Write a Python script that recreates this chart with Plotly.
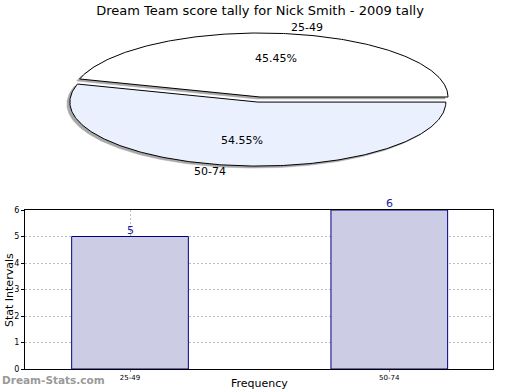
import numpy as np
import plotly.graph_objects as go

title = "Dream Team score tally for Nick Smith - 2009 tally"
categories = ["25-49", "50-74"]
counts = [5, 6]
slice_colors = ["#ffffff", "#eaf0fd"]
explode = [0.0, 0.08]
y_ticks = [0, 1, 2, 3, 4, 5, 6]

W, H = 520, 390
fig = go.Figure()

# ---------- elliptical pie (pixel-space axis x2/y2) ----------
total = sum(counts)
cx, cy, a, b = 260, 97, 188, 64
shadow_dx, shadow_dy = -3, 2
start = 0.0
geo = []
for cat, v, col, ex in zip(categories, counts, slice_colors, explode):
    th0 = start
    th1 = start + 2 * np.pi * v / total
    mid = (th0 + th1) / 2
    dx = ex * a * np.cos(mid)
    dy = -ex * b * np.sin(mid)
    t = np.linspace(th0, th1, 240)
    xs = np.concatenate([[cx], cx + a * np.cos(t), [cx]]) + dx
    ys = np.concatenate([[cy], cy - b * np.sin(t), [cy]]) + dy
    geo.append((cat, v, col, mid, dx, dy, xs, ys))
    start = th1

for cat, v, col, mid, dx, dy, xs, ys in geo:
    fig.add_trace(go.Scatter(x=xs + shadow_dx, y=ys + shadow_dy, mode="lines",
                             fill="toself", fillcolor="#a8a8a8",
                             line=dict(color="#a8a8a8", width=0.5),
                             xaxis="x2", yaxis="y2", hoverinfo="skip",
                             showlegend=False))
for cat, v, col, mid, dx, dy, xs, ys in geo:
    fig.add_trace(go.Scatter(x=xs, y=ys, mode="lines", fill="toself",
                             fillcolor=col, line=dict(color="#000000", width=1),
                             xaxis="x2", yaxis="y2", hoverinfo="skip",
                             showlegend=False))

annotations = []
for cat, v, col, mid, dx, dy, xs, ys in geo:
    px = cx + dx + 0.6 * a * np.cos(mid)
    py = cy + dy - 0.6 * b * np.sin(mid)
    annotations.append(dict(x=px, y=py, xref="x2", yref="y2",
                            text=f"{100 * v / total:.2f}%", showarrow=False,
                            xanchor="center", yanchor="middle",
                            font=dict(size=11, color="#000000")))
    ox = cx + dx + 1.1 * a * np.cos(mid)
    oy = cy + dy - 1.1 * b * np.sin(mid)
    annotations.append(dict(x=ox, y=oy, xref="x2", yref="y2", text=cat,
                            showarrow=False,
                            xanchor="left" if np.cos(mid) > 0 else "right",
                            yanchor="middle",
                            font=dict(size=11, color="#000000")))

# ---------- bar chart ----------
fig.add_trace(go.Bar(x=categories, y=counts, width=0.45,
                     marker=dict(color="#ccccE4",
                                 line=dict(color="#000080", width=1)),
                     xaxis="x", yaxis="y",
                     hoverinfo="skip", showlegend=False))
for cat, v in zip(categories, counts):
    annotations.append(dict(x=cat, y=v, xref="x", yref="y", text=str(v),
                            showarrow=False, xanchor="center",
                            yanchor="bottom", yshift=-2,
                            font=dict(size=11, color="#1a1a99")))

annotations.append(dict(x=9 / W, y=1 - 290 / H, xref="paper", yref="paper",
                        text="Stat Intervals", textangle=-90, showarrow=False,
                        xanchor="center", yanchor="middle",
                        font=dict(size=11, color="#000000")))
annotations.append(dict(x=259 / W, y=1 - 383 / H, xref="paper", yref="paper",
                        text="Frequency", showarrow=False,
                        xanchor="center", yanchor="middle",
                        font=dict(size=11, color="#000000")))
annotations.append(dict(x=0, y=1 - 380 / H, xref="paper", yref="paper",
                        text="<b>Dream-Stats.com</b>", showarrow=False,
                        xanchor="left", yanchor="middle",
                        font=dict(size=10.5, color="#9a9a9a")))

grid_common = dict(showgrid=True, gridcolor="#bdbdbd", griddash="2px,2px",
                   gridwidth=1, zeroline=False, fixedrange=True,
                   showline=True, mirror=True, linecolor="#000000",
                   linewidth=1)

fig.update_layout(
    width=W, height=H,
    margin=dict(l=0, r=0, t=0, b=0, autoexpand=False),
    paper_bgcolor="white", plot_bgcolor="rgba(0,0,0,0)",
    font=dict(family="DejaVu Sans", color="#000000"),
    title=dict(text=title, x=0.5, xanchor="center", y=1 - 10 / H,
               yanchor="middle", font=dict(size=13, color="#000000")),
    annotations=annotations,
    xaxis=dict(domain=[25 / W, 493 / W], range=[-0.405, 1.4], anchor="y",
               type="category", ticks="outside", ticklen=2,
               tickcolor="#999999",
               tickfont=dict(size=7, color="#000000"), **grid_common),
    yaxis=dict(domain=[1 - 369 / H, 1 - 210 / H], range=[0, 6], anchor="x",
               tickvals=y_ticks, ticks="outside", ticklen=3,
               tickcolor="#000000",
               tickfont=dict(size=8, color="#000000"), **grid_common),
    xaxis2=dict(domain=[0, 1], range=[0, W], visible=False, fixedrange=True,
                anchor="y2"),
    yaxis2=dict(domain=[0, 1], range=[H, 0], visible=False, fixedrange=True,
                anchor="x2"),
)

fig.write_html("out.html",
               config={"displayModeBar": False, "staticPlot": True},
               post_script="document.body.style.margin='0';"
                           "document.body.style.padding='0';")
